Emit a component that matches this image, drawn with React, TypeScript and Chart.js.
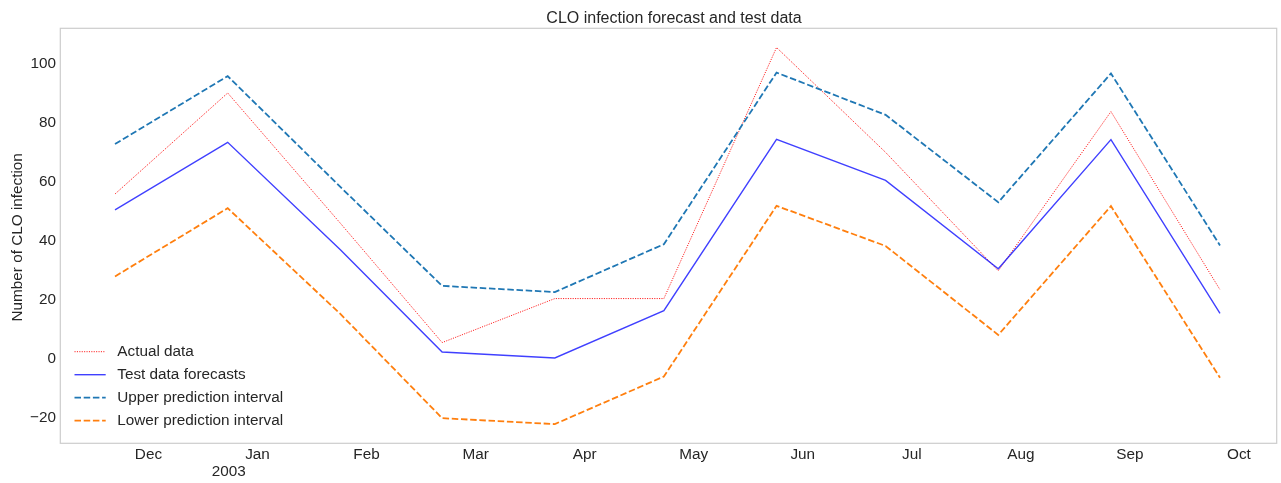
import React, { useEffect, useRef } from 'react';
import { Chart, registerables } from 'chart.js';

Chart.register(...registerables);

// ---- data ----
const dates = [
  '2002-11-30', '2002-12-31', '2003-01-31', '2003-02-28', '2003-03-31', '2003-04-30',
  '2003-05-31', '2003-06-30', '2003-07-31', '2003-08-31', '2003-09-30',
];
const actualData = [55.9, 90.1, 46.0, 5.6, 20.5, 20.5, 105.5, 70.0, 29.9, 83.8, 23.5];
const forecastData = [50.5, 73.4, 37.0, 2.4, 0.4, 16.4, 74.4, 60.5, 30.6, 74.3, 15.5];
const upperData = [72.8, 95.8, 58.3, 24.8, 22.7, 38.9, 97.0, 82.7, 53.1, 96.7, 38.5];
const lowerData = [28.0, 51.1, 15.3, -20.0, -22.0, -5.9, 51.9, 38.3, 8.2, 51.8, -6.3];
const seriesLabels = ['Actual data', 'Test data forecasts', 'Upper prediction interval', 'Lower prediction interval'];
const xTickLabels = ['Dec', 'Jan', 'Feb', 'Mar', 'Apr', 'May', 'Jun', 'Jul', 'Aug', 'Sep', 'Oct'];
const yearLabel = '2003';
const yTickValues = [-20, 0, 20, 40, 60, 80, 100];
const titleText = 'CLO infection forecast and test data';
const yAxisTitle = 'Number of CLO infection';

// ---- helpers ----
const origin = Date.parse(dates[0]);
const dayOf = (d: string) => (Date.parse(d) - origin) / 86400000;
const toPoints = (vals: number[]) => vals.map((v, i) => ({ x: dayOf(dates[i]), y: v }));

const FONT = "'Liberation Sans', Arial, sans-serif";
const TEXT = '#262626';
const TICK_FONT = 15.3;
const X_TICK_START = 9.2;
const X_TICK_STEP = 30;
const YEAR_LABEL_DAY = 31.3;

const framePlugin = {
  id: 'frame',
  afterDatasetsDraw(chart: any) {
    const { ctx, chartArea: a } = chart;
    ctx.save();
    ctx.strokeStyle = '#cccccc';
    ctx.lineWidth = 1.2;
    ctx.strokeRect(a.left, a.top, a.right - a.left, a.bottom - a.top);
    ctx.restore();
  },
};

const textPlugin = {
  id: 'texts',
  afterDraw(chart: any) {
    const { ctx, chartArea: a } = chart;
    ctx.save();
    ctx.fillStyle = TEXT;
    // title
    ctx.font = `16px ${FONT}`;
    ctx.textAlign = 'center';
    ctx.textBaseline = 'alphabetic';
    ctx.fillText(titleText, 674, 22.7);
    // year label under the x axis
    ctx.font = `${TICK_FONT}px ${FONT}`;
    ctx.textBaseline = 'middle';
    ctx.fillText(yearLabel, chart.scales.x.getPixelForValue(YEAR_LABEL_DAY), 472);
    // y axis title
    ctx.save();
    ctx.translate(22, (a.top + a.bottom) / 2 + 1.5);
    ctx.rotate(-Math.PI / 2);
    ctx.textAlign = 'center';
    ctx.textBaseline = 'alphabetic';
    ctx.fillText(yAxisTitle, 0, 0);
    ctx.restore();
    // legend
    const x0 = 74.5;
    const x1 = 105.7;
    const tx = 117.3;
    const y0 = 351.7;
    const dy = 23;
    chart.data.datasets.forEach((ds: any, i: number) => {
      const y = y0 + i * dy;
      ctx.save();
      ctx.strokeStyle = ds.borderColor;
      ctx.lineWidth = ds.borderWidth;
      ctx.setLineDash(ds.borderDash || []);
      ctx.beginPath();
      ctx.moveTo(x0, y);
      ctx.lineTo(x1, y);
      ctx.stroke();
      ctx.restore();
      ctx.font = `${TICK_FONT}px ${FONT}`;
      ctx.textAlign = 'left';
      ctx.textBaseline = 'middle';
      ctx.fillStyle = TEXT;
      ctx.fillText(ds.label, tx, y);
    });
    ctx.restore();
  },
};

export default function App() {
  const ref = useRef<HTMLCanvasElement>(null);
  useEffect(() => {
    if (!ref.current) return;
    const chart = new Chart(ref.current, {
      type: 'line',
      data: {
        datasets: [
          {
            label: seriesLabels[0],
            data: toPoints(actualData),
            borderColor: 'rgba(255,0,0,0.9)',
            borderWidth: 1,
            borderDash: [1.1, 1.3],
            pointRadius: 0,
            fill: false,
            tension: 0,
            order: 4,
          },
          {
            label: seriesLabels[1],
            data: toPoints(forecastData),
            borderColor: 'rgba(0,0,255,0.75)',
            borderWidth: 1.4,
            pointRadius: 0,
            fill: false,
            tension: 0,
            order: 3,
          },
          {
            label: seriesLabels[2],
            data: toPoints(upperData),
            borderColor: '#1f77b4',
            borderWidth: 1.8,
            borderDash: [6.5, 2.7],
            pointRadius: 0,
            fill: false,
            tension: 0,
            order: 2,
          },
          {
            label: seriesLabels[3],
            data: toPoints(lowerData),
            borderColor: '#ff7f0e',
            borderWidth: 1.8,
            borderDash: [6.5, 2.7],
            pointRadius: 0,
            fill: false,
            tension: 0,
            order: 1,
          },
        ],
      } as any,
      options: {
        animation: false,
        responsive: false,
        devicePixelRatio: 1,
        layout: { padding: { left: 0, top: 28.3, right: 4.3, bottom: 0 } },
        plugins: {
          legend: { display: false },
          title: { display: false },
          tooltip: { enabled: false },
        },
        scales: {
          x: {
            type: 'linear',
            min: -15.05,
            max: 319.6,
            grid: { display: false, drawTicks: false, tickLength: 0 },
            border: { display: false },
            afterFit: (s: any) => { s.height = 39.7; },
            afterBuildTicks: (s: any) => {
              s.ticks = xTickLabels.map((_, i) => ({ value: X_TICK_START + X_TICK_STEP * i }));
            },
            ticks: {
              autoSkip: false,
              maxRotation: 0,
              minRotation: 0,
              padding: 3,
              color: TEXT,
              font: { family: FONT, size: TICK_FONT, lineHeight: 1.1 },
              callback: (_v: any, i: number) => xTickLabels[i],
            },
          },
          y: {
            type: 'linear',
            min: -28.5,
            max: 112,
            grid: { display: false, drawTicks: false, tickLength: 0 },
            border: { display: false },
            afterFit: (s: any) => { s.width = 60.3; },
            afterBuildTicks: (s: any) => {
              s.ticks = yTickValues.map((v) => ({ value: v }));
            },
            ticks: {
              padding: 4.3,
              color: TEXT,
              font: { family: FONT, size: TICK_FONT },
              callback: (v: any) => (v < 0 ? '\u2212' + Math.abs(v) : String(v)),
            },
          },
        },
      } as any,
      plugins: [framePlugin, textPlugin],
    });
    return () => chart.destroy();
  }, []);
  return (
    <div style={{ position: 'fixed', left: 0, top: 0, width: 1281, height: 483, background: '#ffffff' }}>
      <canvas ref={ref} width={1281} height={483} style={{ display: 'block', width: 1281, height: 483 }} />
    </div>
  );
}
